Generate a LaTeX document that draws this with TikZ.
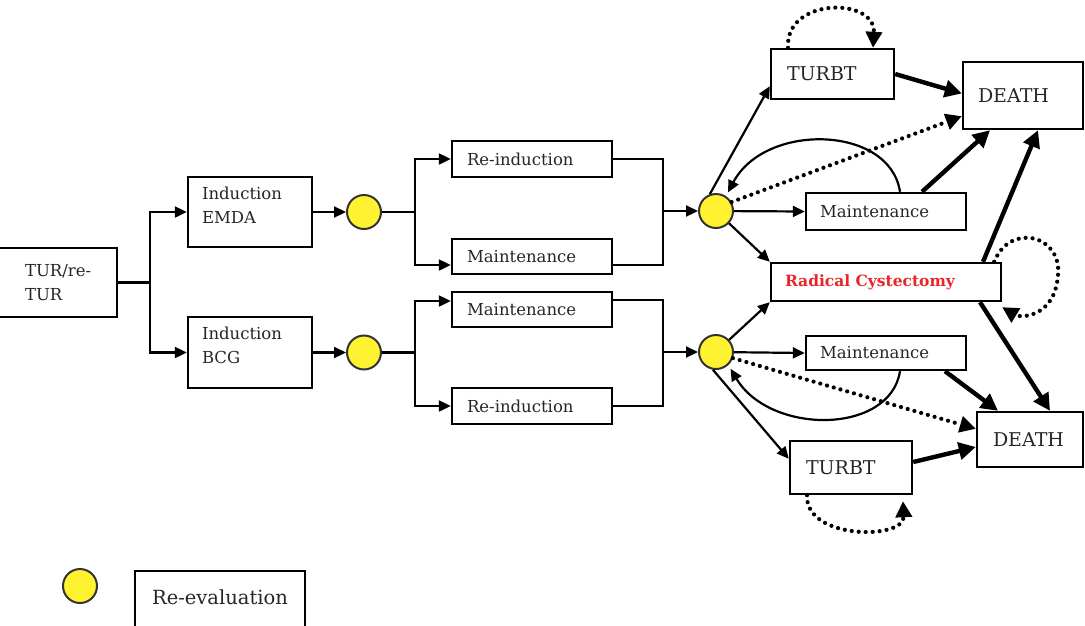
\documentclass[tikz,border=0pt]{standalone}
\usepackage{fontspec}
\setmainfont{DejaVu Serif}
\usetikzlibrary{arrows.meta,calc}
\definecolor{txt}{HTML}{262626}
\definecolor{ylw}{HTML}{FFF230}
\definecolor{rcred}{HTML}{E8262A}
\begin{document}
\begin{tikzpicture}[x=1pt,y=-1pt,
  box/.style={draw=black, line width=2.4pt, inner ysep=0pt, align=left, text=txt, fill=white},
  ev/.style={circle, draw=black!80, line width=2pt, fill=ylw, minimum size=34pt, inner sep=0pt},
  conn/.style={line width=2.2pt},
  arr/.style={line width=2.2pt, -{Triangle[length=12pt,width=11pt]}},
  thk/.style={line width=4.4pt, -{Triangle[length=17pt,width=17pt]}},
  dotarr/.style={line width=4.2pt, dash pattern=on 0pt off 7pt, line cap=round, -{Triangle[length=16pt,width=16pt]}},
  fs/.style={font=\fontsize{16.5}{24}\selectfont},
  fb/.style={font=\fontsize{19}{23}\selectfont},
]
\useasboundingbox (0,0) rectangle (1085,625);
\clip (0,0) rectangle (1085,625);

% left part
\node[box, fs, minimum width=122pt, minimum height=69pt, text width=70pt, inner xsep=26pt] (tur) at (56,282.5) {\hspace*{4pt}\mbox{TUR/re-}\\\hspace*{4pt}TUR};
\node[box, fs, minimum width=124pt, minimum height=70pt, text width=96pt, inner xsep=14pt] (emda) at (250,212) {Induction\\EMDA\\[-10pt]\mbox{}};
\node[box, fs, minimum width=124pt, minimum height=71pt, text width=96pt, inner xsep=14pt] (bcg) at (250,352.5) {Induction\\BCG\\[-10pt]\mbox{}};

\node[ev] (c1) at (364,212) {};
\node[ev] (c2) at (364,352.5) {};

\node[box, fs, minimum width=160pt, minimum height=36pt, text width=130pt, inner xsep=15pt] (rei1) at (532,159) {Re-induction};
\node[box, fs, minimum width=160pt, minimum height=35pt, text width=130pt, inner xsep=15pt] (mai1) at (532,256.5) {Maintenance};
\node[box, fs, minimum width=160pt, minimum height=35pt, text width=130pt, inner xsep=15pt] (mai2) at (532,309.5) {Maintenance};
\node[box, fs, minimum width=160pt, minimum height=36pt, text width=130pt, inner xsep=15pt] (rei2) at (532,406) {Re-induction};

\node[ev] (c3) at (716,211) {};
\node[ev] (c4) at (716,352) {};

% right part
\node[box, fb, minimum width=123pt, minimum height=50pt, text width=91pt, inner xsep=16pt] (turbt1) at (832.5,74) {TURBT};
\node[box, fb, minimum width=120pt, minimum height=67pt, text width=90pt, inner xsep=15pt] (death1) at (1023,95.5) {DEATH};
\node[box, fs, minimum width=160pt, minimum height=37pt, text width=132pt, inner xsep=14pt] (maint3) at (886,211.5) {Maintenance};
\node[box, minimum width=230pt, minimum height=38pt, text width=202pt, inner xsep=14pt, text=rcred, font=\fontsize{15.5}{19}\selectfont\bfseries] (rc) at (886,282) {Radical Cystectomy};
\node[box, fs, minimum width=160pt, minimum height=34pt, text width=132pt, inner xsep=14pt] (maint4) at (886,353) {Maintenance};
\node[box, fb, minimum width=106pt, minimum height=55pt, text width=74pt, inner xsep=16pt] (death2) at (1030,439.5) {DEATH};
\node[box, fb, minimum width=122pt, minimum height=53pt, text width=90pt, inner xsep=16pt] (turbt2) at (851,467.5) {TURBT};

% legend
\node[ev] (legc) at (80,586) {};
\node[box, anchor=north, minimum width=170pt, text width=170pt, inner xsep=0pt, align=center, text height=33pt, text depth=50pt, font=\fontsize{19.5}{24}\selectfont] (leg) at (220,570) {Re-evaluation};

% left connectors
\coordinate (j1) at (150,282.5);
\draw[conn] (tur.east) -- (j1);
\draw[arr] (j1) |- (emda.west);
\draw[arr] (j1) |- (bcg.west);
\draw[arr] (emda.east) -- (c1);
\draw[arr] (bcg.east) -- (c2);

\coordinate (j2) at (415,212);
\draw[conn] (c1.east) -- (j2);
\draw[arr] (j2) |- (rei1.west);
\draw[arr] (j2) |- ([yshift=-8.5pt]mai1.west);
\coordinate (j3) at (663,211);
\draw[conn] (rei1.east) -| (j3);
\draw[conn] ([yshift=-8.5pt]mai1.east) -| (j3);
\draw[arr] (j3) -- (c3);

\coordinate (j4) at (415,352.5);
\draw[conn] (c2.east) -- (j4);
\draw[arr] (j4) |- ([yshift=8.5pt]mai2.west);
\draw[arr] (j4) |- (rei2.west);
\coordinate (j5) at (663,352);
\draw[conn] ([yshift=9.5pt]mai2.east) -| (j5);
\draw[conn] (rei2.east) -| (j5);
\draw[arr] (j5) -- (c4);

% top circle
\draw[arr] (c3.110) -- ([yshift=14pt]turbt1.south west);
\draw[arr] (c3) -- (maint3.west);
\draw[arr] (c3) -- (rc.north west);
\draw[dotarr] (c3.30) -- ([yshift=14pt]death1.south west);
\draw[arr] ([xshift=14pt]maint3.north) .. controls (890,125) and (765,122) .. ([shift={(3pt,3pt)}]c3.60);

% bottom circle
\draw[arr] (c4) -- (maint4.west);
\draw[arr] (c4) -- (rc.south west);
\draw[arr] (c4.-100) -- ([yshift=-19pt]turbt2.north west);
\draw[dotarr] (c4.-20) -- ([yshift=-18pt]death2.north west);
\draw[arr] ([xshift=14pt]maint4.south) .. controls (890,435) and (770,435) .. ([shift={(3pt,-3pt)}]c4.-50);

% thick arrows to death
\draw[thk] (turbt1.east) -- ([yshift=2pt]death1.west);
\draw[thk] ([xshift=36pt]maint3.north) -- ([xshift=-33pt]death1.south);
\draw[thk] ([xshift=97pt]rc.north) -- ([xshift=15pt]death1.south);
\draw[thk] ([xshift=94pt]rc.south) -- ([xshift=20pt]death2.north);
\draw[thk] ([xshift=59pt]maint4.south) -- ([xshift=-32pt]death2.north);
\draw[thk] ([yshift=5.5pt]turbt2.east) -- ([yshift=-7.5pt]death2.west);

% self loops
\draw[dotarr] ([xshift=-44.5pt]turbt1.north) .. controls (785,-3) and (876,-3) .. ([xshift=40.5pt]turbt1.north);
\draw[dotarr] ([xshift=-44pt]turbt2.south) .. controls (805,540) and (905,540) .. ([xshift=52pt,yshift=-6pt]turbt2.south);
\draw[dotarr] ([xshift=-8pt]rc.north east) .. controls (1010,222) and (1062,235) .. (1058,275) .. controls (1055,318) and (1020,318) .. ([yshift=-5pt]rc.south east);
\end{tikzpicture}
\end{document}
